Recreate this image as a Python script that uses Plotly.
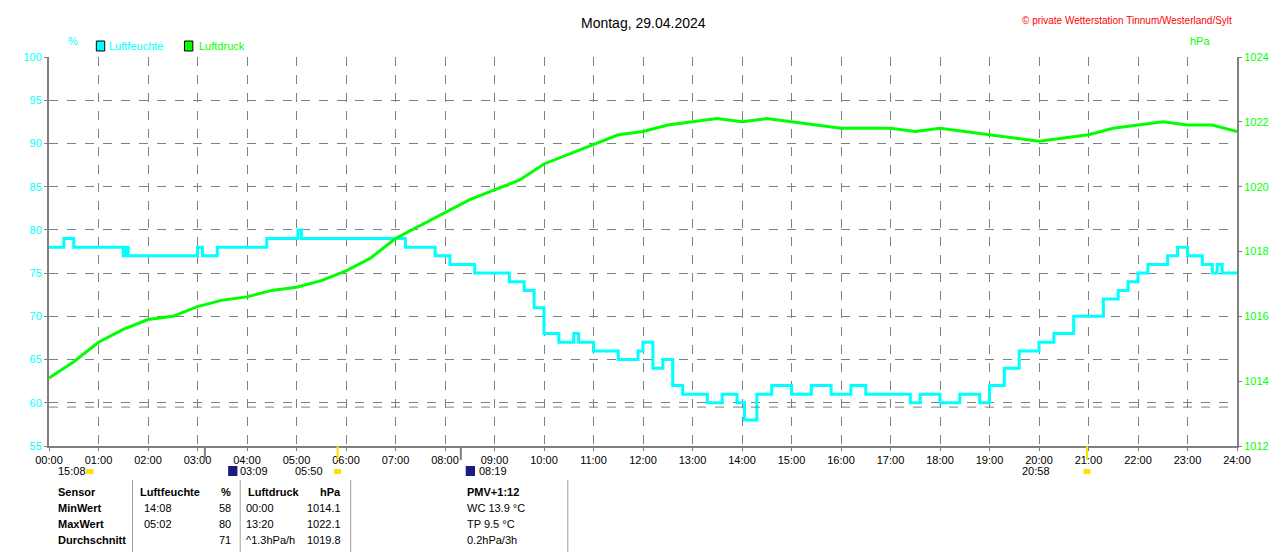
import plotly.graph_objects as go

# Luftfeuchte (%), stepwise, hour of day
hum_t = [0, 0.3, 0.5, 1.0, 1.5, 1.55, 1.6, 3.0, 3.1, 3.4, 4.2, 4.4, 5.0, 5.03, 5.1, 7.2, 7.8, 8.1, 8.6, 9.3, 9.6, 9.8,
         10.0, 10.3, 10.6, 10.7, 11.0, 11.5, 11.9, 12.0, 12.2, 12.4, 12.6, 12.8, 13.0, 13.3, 13.6, 13.9, 14.05, 14.3, 14.6,
         15.0, 15.4, 15.8, 16.2, 16.5, 17.0, 17.4, 17.6, 18.0, 18.4, 18.8, 19.0, 19.3, 19.6, 20.0, 20.3, 20.7,
         21.0, 21.3, 21.6, 21.8, 22.0, 22.2, 22.6, 22.8, 23.0, 23.3, 23.5, 23.6, 23.7, 24.0]
hum_v = [78, 79, 78, 78, 77, 78, 77, 78, 77, 78, 78, 79, 79, 80, 79, 78, 77, 76, 75, 74, 73, 71,
         68, 67, 68, 67, 66, 65, 66, 67, 64, 65, 62, 61, 61, 60, 61, 60, 58, 61, 62,
         61, 62, 61, 62, 61, 61, 60, 61, 60, 61, 60, 62, 64, 66, 67, 68, 70,
         70, 72, 73, 74, 75, 76, 77, 78, 77, 76, 75, 76, 75, 75]

# Luftdruck (hPa), half-hourly
p_t = [i * 0.5 for i in range(49)]
p_v = [1014.1, 1014.6, 1015.2, 1015.6, 1015.9, 1016.0, 1016.3, 1016.5, 1016.6, 1016.8, 1016.9, 1017.1,
       1017.4, 1017.8, 1018.4, 1018.8, 1019.2, 1019.6, 1019.9, 1020.2, 1020.7, 1021.0, 1021.3, 1021.6,
       1021.7, 1021.9, 1022.0, 1022.1, 1022.0, 1022.1, 1022.0, 1021.9, 1021.8, 1021.8, 1021.8, 1021.7,
       1021.8, 1021.7, 1021.6, 1021.5, 1021.4, 1021.5, 1021.6, 1021.8, 1021.9, 1022.0, 1021.9, 1021.9, 1021.7]

hour_labels = ["%02d:00" % h for h in range(25)]

fig = go.Figure()
fig.add_trace(go.Scatter(x=hum_t, y=hum_v, mode="lines", line=dict(color="#00FFFF", width=3, shape="hv"),
                         name="Luftfeuchte"))
fig.add_trace(go.Scatter(x=p_t, y=p_v, mode="lines", line=dict(color="#00FF00", width=3),
                         name="Luftdruck", yaxis="y2"))

font = dict(family="Liberation Sans, Arial", size=11, color="black")
fig.update_layout(
    width=1280, height=552, showlegend=False, plot_bgcolor="white", paper_bgcolor="white",
    margin=dict(l=41, r=51, t=49, b=114, autoexpand=False), font=font,
    xaxis=dict(range=[0, 24], tickvals=list(range(25)), ticktext=hour_labels, showgrid=True, automargin=False,
               gridcolor="#808080", griddash="dash", gridwidth=1, linecolor="#808080", linewidth=2,
               mirror=False, ticks="outside", ticklen=3, tickcolor="#808080", zeroline=False),
    yaxis=dict(range=[55, 100], dtick=5, showgrid=True, gridcolor="#808080", griddash="dash", automargin=False,
               tickfont=dict(color="#00FFFF", size=11), linecolor="#808080", linewidth=2,
               ticks="outside", ticklen=3, tickcolor="#808080", zeroline=False),
    yaxis2=dict(range=[1012, 1024], dtick=2, overlaying="y", side="right", showgrid=False, automargin=False,
                tickfont=dict(color="#00FF00", size=11), linecolor="#808080", linewidth=2,
                ticks="outside", ticklen=3, tickcolor="#808080", zeroline=False),
)

def ypx(y):
    return (438 - y) / 389

ann = []
def txt(x, y, s, anchor="left", color="black", bold=False, size=11):
    ann.append(dict(x=x / 1280, y=ypx(y), xref="paper", yref="paper", text=("<b>%s</b>" % s) if bold else s,
                    showarrow=False, xanchor=anchor, yanchor="middle", font=dict(color=color, size=size)))

txt(640, 15, "Montag, 29.04.2024", anchor="center", size=14)
txt(1277, 12, "© private Wetterstation Tinnum/Westerland/Sylt", anchor="right", color="red", size=10)
txt(26, 33, "%", anchor="center", color="#00FFFF")
txt(1240, 33, "hPa", anchor="center", color="#00FF00")
txt(63, 38, "Luftfeuchte", color="#00FFFF")
txt(159, 38, "Luftdruck", color="#00FF00")
txt(8, 463, "15:08")
txt(204, 463, "03:09")
txt(263, 463, "05:50")
txt(461, 463, "08:19")
txt(1046, 463, "20:58")

rows = [
    ("Sensor", "Luftfeuchte", "%", "Luftdruck", "hPa", "PMV+1:12"),
    ("MinWert", "14:08", "58", "00:00", "1014.1", "WC 13.9 °C"),
    ("MaxWert", "05:02", "80", "13:20", "1022.1", "TP 9.5 °C"),
    ("Durchschnitt", "", "71", "^1.3hPa/h", "1019.8", "0.2hPa/3h"),
    ("29.04. 23:59", "9.00 g/m³", "75", "veränderlich", "1021.7", "-0.2hPa/1h"),
]
for i, r in enumerate(rows):
    y = 484 + i * 16
    txt(8, y, r[0], bold=True)
    txt(96 if i == 0 else 100, y, r[1], bold=(i == 0))
    txt(198, y, r[2], anchor="right", bold=(i in (0, 4)))
    txt(212 if i == 0 else 210, y, r[3], bold=(i == 0))
    txt(317, y, r[4], anchor="right", bold=(i in (0, 4)))
    txt(448, y, r[5], bold=(i == 0))

shapes = [
    dict(type="line", xref="paper", yref="y", x0=0, x1=1, y0=59.5, y1=59.5,
         line=dict(color="#808080", width=1, dash="dash")),
]
# legend boxes
for xp, col in ((51, "#00FFFF"), (146, "#00FF00")):
    shapes.append(dict(type="rect", xref="paper", yref="paper", x0=xp / 1280, x1=(xp + 9) / 1280,
                       y0=ypx(43), y1=ypx(33), fillcolor=col, line=dict(color="black", width=1)))
for xp in (90, 206, 325, 559):
    shapes.append(dict(type="line", xref="paper", yref="paper", x0=xp / 1280, x1=xp / 1280,
                       y0=ypx(472), y1=ypx(552), line=dict(color="#A0A0A0", width=1)))
for xh, col in ((3.15, "#808080"), (8.32, "#808080"), (5.83, "#FFE000"), (20.97, "#FFE000")):
    shapes.append(dict(type="line", xref="x", yref="paper", x0=xh, x1=xh, y0=ypx(438), y1=ypx(452),
                       line=dict(color=col, width=2)))
for xh in (5.83, 20.97):
    shapes.append(dict(type="rect", xref="x", yref="paper", x0=xh - 0.07, x1=xh + 0.07, y0=ypx(466), y1=ypx(461),
                       fillcolor="#FFE000", line=dict(width=0)))
shapes.append(dict(type="rect", xref="paper", yref="paper", x0=40 / 1280, x1=48 / 1280, y0=ypx(466), y1=ypx(461),
                   fillcolor="#FFE000", line=dict(width=0)))
for xp in (193, 449):
    shapes.append(dict(type="rect", xref="paper", yref="paper", x0=xp / 1280, x1=(xp + 10) / 1280,
                       y0=ypx(468), y1=ypx(458), fillcolor="#1A1A80", line=dict(width=0)))

fig.update_layout(annotations=ann, shapes=shapes)
fig.write_html("out.html")
